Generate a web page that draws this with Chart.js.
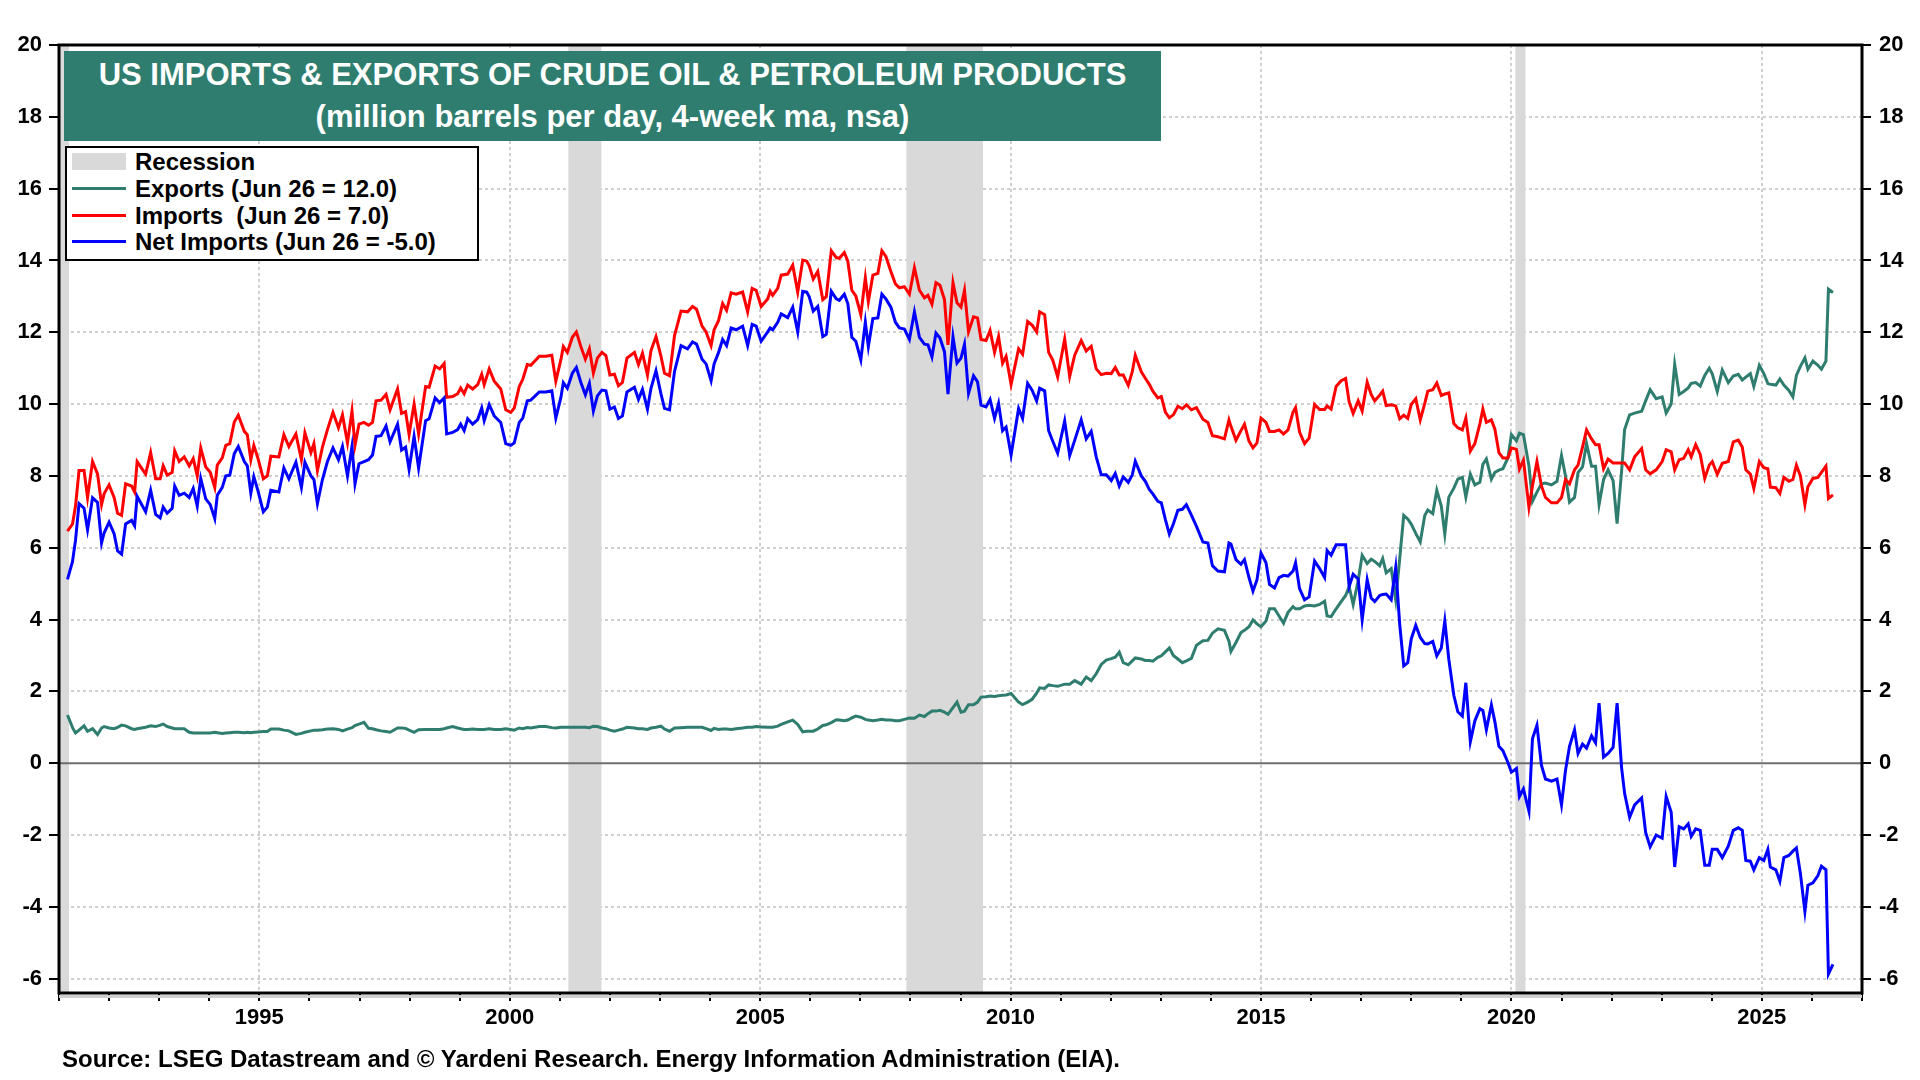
<!DOCTYPE html>
<html>
<head>
<meta charset="utf-8">
<title>US Imports &amp; Exports of Crude Oil &amp; Petroleum Products</title>
<script src="https://cdn.jsdelivr.net/npm/chart.js@4.4.1/dist/chart.umd.min.js"></script>
<style>
  body { margin: 0; background: #fff; font-family: "Liberation Sans", Arial, sans-serif; }
  #wrap { position: relative; width: 1920px; height: 1080px; overflow: hidden; }
  #chart { position: absolute; left: 0; top: 0; }
  .title-box {
    position: absolute; left: 64px; top: 51px; width: 1097px; height: 90px;
    background: #2e7d6f; color: #fff; font-weight: bold; text-align: center;
  }
  .title-box div { position: absolute; left: 0; right: 0; font-size: 31px; line-height: 34px; }
  .t1 { top: 7px; }
  .t2 { top: 49px; }
  .legend {
    position: absolute; left: 65px; top: 146px; width: 410px; height: 111px;
    border: 2px solid #000; background: #fff;
  }
  .row {
    position: absolute; left: 68px; height: 26px; line-height: 26px;
    font-size: 24px; font-weight: bold; color: #000; white-space: pre;
  }
  .sw { position: absolute; left: 5px; width: 54px; }
  .source {
    position: absolute; left: 62px; top: 1046px; font-size: 24px; line-height: 26px;
    font-weight: bold; color: #000; white-space: nowrap;
  }
</style>
</head>
<body>
<div id="wrap">
  <canvas id="chart" width="1920" height="1080"></canvas>

  <div class="title-box">
    <div class="t1">US IMPORTS &amp; EXPORTS OF CRUDE OIL &amp; PETROLEUM PRODUCTS</div>
    <div class="t2">(million barrels per day, 4-week ma, nsa)</div>
  </div>

  <div class="legend">
    <div class="sw" style="top:5px;height:17px;background:#d9d9d9;"></div>
    <div class="row" style="top:1px;">Recession</div>
    <div class="sw" style="top:39px;height:3px;background:#2e7d6f;"></div>
    <div class="row" style="top:28px;">Exports (Jun 26 = 12.0)</div>
    <div class="sw" style="top:66px;height:3px;background:#ff0000;"></div>
    <div class="row" style="top:55px;">Imports  (Jun 26 = 7.0)</div>
    <div class="sw" style="top:92px;height:3px;background:#0000ff;"></div>
    <div class="row" style="top:81px;">Net Imports (Jun 26 = -5.0)</div>
  </div>

  <div class="source">Source: LSEG Datastream and © Yardeni Research. Energy Information Administration (EIA).</div>
</div>

<script>
// dates as decimal years (roughly monthly)
const years = [
  1991.17, 1991.27, 1991.33, 1991.40, 1991.50, 1991.57, 1991.67, 1991.77, 1991.85, 1991.90,
  1992.00, 1992.10, 1992.17, 1992.25, 1992.33, 1992.45, 1992.51, 1992.56, 1992.73, 1992.83,
  1992.93, 1993.02, 1993.08, 1993.16, 1993.26, 1993.31, 1993.40, 1993.50, 1993.60, 1993.68,
  1993.76, 1993.83, 1993.93, 1994.02, 1994.11, 1994.16, 1994.26, 1994.33, 1994.41, 1994.50,
  1994.58, 1994.70, 1994.76, 1994.83, 1994.89, 1994.97, 1995.08, 1995.16, 1995.23, 1995.39,
  1995.49, 1995.59, 1995.73, 1995.84, 1995.91,
  1996.03, 1996.09, 1996.16, 1996.26, 1996.36, 1996.47, 1996.58, 1996.66, 1996.76, 1996.85,
  1996.91, 1996.99, 1997.09, 1997.18, 1997.26, 1997.33, 1997.43, 1997.53, 1997.61, 1997.76,
  1997.84, 1997.92, 1997.99, 1998.09, 1998.18, 1998.32, 1998.39, 1998.51, 1998.60, 1998.69,
  1998.74, 1998.86, 1998.96, 1999.02, 1999.09, 1999.16, 1999.26, 1999.36, 1999.44, 1999.49,
  1999.59, 1999.69, 1999.82, 1999.92, 2000.02, 2000.09, 2000.19, 2000.26, 2000.35, 2000.42,
  2000.59, 2000.72, 2000.84, 2000.92,
  2001.02, 2001.07, 2001.15, 2001.25, 2001.33, 2001.42, 2001.51, 2001.59, 2001.67, 2001.75,
  2001.84, 2001.92, 2002.00, 2002.09, 2002.17, 2002.25, 2002.34, 2002.49, 2002.57, 2002.65,
  2002.75, 2002.82, 2002.92, 2003.02, 2003.09, 2003.19, 2003.29, 2003.42, 2003.55, 2003.65,
  2003.73, 2003.84, 2003.92, 2004.02, 2004.08, 2004.17, 2004.25, 2004.33, 2004.42, 2004.52,
  2004.65, 2004.75, 2004.84, 2004.92, 2005.02, 2005.15, 2005.20, 2005.25, 2005.35, 2005.42,
  2005.55, 2005.65, 2005.75, 2005.85, 2005.93,
  2005.98, 2006.06, 2006.15, 2006.25, 2006.32, 2006.42, 2006.52, 2006.58, 2006.68, 2006.75,
  2006.83, 2006.91, 2007.01, 2007.10, 2007.16, 2007.25, 2007.35, 2007.43, 2007.51, 2007.61,
  2007.70, 2007.78, 2007.88, 2007.98, 2008.08, 2008.18, 2008.28, 2008.35, 2008.43, 2008.51,
  2008.59, 2008.68, 2008.75, 2008.85, 2008.93, 2009.01, 2009.08, 2009.16, 2009.26, 2009.34,
  2009.41, 2009.51, 2009.59, 2009.68, 2009.76, 2009.84, 2009.91, 2010.01, 2010.16, 2010.24,
  2010.34, 2010.43, 2010.52, 2010.58, 2010.68, 2010.76, 2010.84, 2010.94,
  2011.08, 2011.18, 2011.28, 2011.41, 2011.51, 2011.61, 2011.71, 2011.81, 2011.91, 2012.01,
  2012.09, 2012.17, 2012.25, 2012.35, 2012.43, 2012.49, 2012.61, 2012.69, 2012.77, 2012.84,
  2012.94, 2013.01, 2013.09, 2013.17, 2013.25, 2013.34, 2013.43, 2013.51, 2013.61, 2013.71,
  2013.84, 2013.94, 2014.03, 2014.14, 2014.27, 2014.36, 2014.40, 2014.50, 2014.60, 2014.67,
  2014.76, 2014.84, 2014.92, 2015.00, 2015.10, 2015.17, 2015.27, 2015.36, 2015.45, 2015.54,
  2015.64, 2015.69, 2015.77, 2015.87, 2015.96,
  2016.07, 2016.17, 2016.27, 2016.32, 2016.40, 2016.50, 2016.60, 2016.69, 2016.76, 2016.84,
  2016.94, 2017.02, 2017.12, 2017.20, 2017.27, 2017.37, 2017.43, 2017.50, 2017.60, 2017.69,
  2017.77, 2017.85, 2017.93, 2018.00, 2018.09, 2018.18, 2018.27, 2018.33, 2018.43, 2018.51,
  2018.60, 2018.67, 2018.75, 2018.85, 2018.93, 2019.02, 2019.09, 2019.18, 2019.27, 2019.37,
  2019.43, 2019.50, 2019.60, 2019.67, 2019.75, 2019.83, 2019.93, 2020.00, 2020.10, 2020.16,
  2020.24, 2020.35, 2020.42, 2020.51, 2020.60, 2020.68, 2020.80, 2020.91,
  2021.00, 2021.08, 2021.16, 2021.26, 2021.33, 2021.42, 2021.50, 2021.60, 2021.68, 2021.75,
  2021.84, 2021.93, 2022.03, 2022.11, 2022.20, 2022.26, 2022.36, 2022.46, 2022.60, 2022.68,
  2022.77, 2022.89, 2023.01, 2023.09, 2023.19, 2023.26, 2023.35, 2023.44, 2023.53, 2023.59,
  2023.68, 2023.77, 2023.86, 2023.95, 2024.01, 2024.11, 2024.21, 2024.33, 2024.43, 2024.53,
  2024.61, 2024.68, 2024.77, 2024.84, 2024.95, 2025.04, 2025.12, 2025.17, 2025.28, 2025.36,
  2025.44, 2025.54, 2025.62, 2025.69, 2025.77, 2025.86, 2025.92, 2026.02, 2026.12, 2026.19,
  2026.28, 2026.33, 2026.42
];

// million barrels per day
const exportsMbd = [
  1.34, 0.99, 0.84, 0.92, 1.04, 0.89, 0.96, 0.80, 0.98, 1.02,
  0.98, 0.96, 1.00, 1.06, 1.04, 0.96, 0.94, 0.96, 1.00, 1.04,
  1.02, 1.06, 1.09, 1.02, 0.98, 0.96, 0.96, 0.96, 0.86, 0.84,
  0.84, 0.84, 0.84, 0.84, 0.86, 0.85, 0.83, 0.84, 0.85, 0.86,
  0.86, 0.85, 0.86, 0.85, 0.86, 0.87, 0.88, 0.88, 0.95, 0.95,
  0.92, 0.90, 0.80, 0.83, 0.86,
  0.90, 0.92, 0.92, 0.93, 0.95, 0.96, 0.94, 0.90, 0.95, 0.99,
  1.05, 1.09, 1.14, 0.97, 0.96, 0.93, 0.90, 0.88, 0.86, 0.98,
  0.98, 0.97, 0.92, 0.86, 0.93, 0.94, 0.94, 0.94, 0.94, 0.96,
  0.98, 1.02, 0.98, 0.96, 0.94, 0.94, 0.95, 0.94, 0.94, 0.94,
  0.96, 0.94, 0.94, 0.96, 0.94, 0.92, 0.98, 0.96, 0.99, 0.98,
  1.02, 1.02, 0.99, 0.98,
  1.00, 1.00, 1.00, 1.00, 1.00, 1.00, 1.00, 0.99, 1.03, 1.02,
  0.98, 0.96, 0.92, 0.89, 0.92, 0.95, 1.00, 0.98, 0.96, 0.96,
  0.94, 0.98, 1.00, 1.03, 0.95, 0.89, 0.98, 0.99, 1.00, 1.00,
  1.00, 1.00, 0.96, 0.91, 0.97, 0.94, 0.95, 0.95, 0.94, 0.96,
  0.98, 1.00, 1.00, 1.02, 1.01, 1.00, 1.00, 1.00, 1.03, 1.08,
  1.15, 1.20, 1.08, 0.87, 0.89,
  0.89, 0.89, 0.95, 1.05, 1.07, 1.13, 1.21, 1.20, 1.18, 1.20,
  1.26, 1.31, 1.28, 1.22, 1.20, 1.18, 1.20, 1.22, 1.20, 1.20,
  1.18, 1.18, 1.22, 1.26, 1.25, 1.34, 1.30, 1.38, 1.45, 1.45,
  1.47, 1.42, 1.36, 1.55, 1.70, 1.42, 1.45, 1.63, 1.63, 1.70,
  1.84, 1.85, 1.87, 1.86, 1.88, 1.89, 1.90, 1.94, 1.70, 1.63,
  1.70, 1.78, 1.95, 2.10, 2.08, 2.18, 2.16, 2.14,
  2.20, 2.20, 2.30, 2.20, 2.40, 2.30, 2.49, 2.75, 2.87, 2.91,
  2.95, 3.09, 2.80, 2.74, 2.85, 2.93, 2.90, 2.86, 2.86, 2.84,
  2.95, 2.99, 3.10, 3.21, 3.00, 2.90, 2.80, 2.85, 2.92, 3.28,
  3.41, 3.42, 3.62, 3.74, 3.70, 3.40, 3.11, 3.36, 3.64, 3.70,
  3.80, 3.99, 3.88, 3.80, 3.96, 4.30, 4.30, 4.10, 3.90, 4.20,
  4.36, 4.30, 4.30, 4.38, 4.40,
  4.38, 4.42, 4.51, 4.10, 4.08, 4.30, 4.50, 4.67, 4.92, 4.42,
  5.08, 5.79, 5.56, 5.68, 5.62, 5.50, 5.70, 5.30, 5.42, 4.55,
  5.70, 6.90, 6.80, 6.66, 6.40, 6.16, 6.90, 7.05, 6.95, 7.60,
  7.16, 6.38, 7.41, 7.66, 7.91, 7.96, 7.41, 8.05, 7.75, 7.82,
  8.32, 8.47, 7.91, 8.10, 8.16, 8.20, 8.50, 9.15, 8.98, 9.19,
  9.15, 8.28, 7.29, 7.55, 7.78, 7.80, 7.75, 7.85,
  8.57, 8.00, 7.27, 7.40, 8.09, 8.25, 8.90, 8.27, 8.27, 7.20,
  7.90, 8.17, 7.87, 6.67, 8.13, 9.29, 9.70, 9.75, 9.80, 10.09,
  10.40, 10.15, 10.20, 9.75, 10.00, 11.11, 10.27, 10.35, 10.45, 10.58,
  10.60, 10.50, 10.80, 11.00, 10.84, 10.35, 10.95, 10.60, 10.78, 10.83,
  10.67, 10.75, 10.85, 10.49, 11.08, 10.85, 10.57, 10.55, 10.53, 10.70,
  10.53, 10.38, 10.20, 10.80, 11.05, 11.29, 10.97, 11.20, 11.08, 10.97,
  11.20, 13.20, 13.11
];

const importsMbd = [
  6.46, 6.66, 7.16, 8.15, 8.15, 7.40, 8.40, 8.05, 7.20, 7.50,
  7.75, 7.40, 6.96, 6.90, 7.78, 7.72, 7.55, 8.40, 8.05, 8.65,
  7.92, 7.92, 8.28, 8.02, 8.10, 8.70, 8.40, 8.53, 8.28, 8.48,
  8.00, 8.78, 8.25, 8.10, 7.68, 8.30, 8.50, 8.85, 8.90, 9.50,
  9.69, 9.24, 9.15, 8.45, 8.85, 8.50, 7.92, 8.00, 8.55, 8.53,
  9.15, 8.82, 9.17, 8.45, 9.20,
  8.65, 8.90, 8.15, 8.80, 9.29, 9.77, 9.34, 9.70, 8.92, 9.81,
  8.85, 9.44, 9.49, 9.41, 9.49, 10.09, 10.11, 10.27, 9.84, 10.42,
  9.74, 9.79, 9.15, 10.00, 9.17, 10.49, 10.47, 11.06, 10.98, 11.13,
  10.19, 10.21, 10.29, 10.45, 10.29, 10.53, 10.42, 10.54, 10.83, 10.54,
  10.98, 10.64, 10.42, 9.84, 9.77, 9.89, 10.49, 10.69, 11.10, 11.08,
  11.33, 11.33, 11.36, 10.64,
  11.23, 11.60, 11.44, 11.86, 12.01, 11.60, 11.25, 11.54, 10.86, 11.28,
  11.44, 11.35, 10.81, 10.83, 10.51, 10.60, 11.28, 11.44, 11.10, 11.42,
  10.81, 11.49, 11.88, 11.33, 10.86, 10.79, 11.91, 12.59, 12.57, 12.72,
  12.64, 12.17, 12.01, 11.63, 12.07, 12.33, 12.80, 12.61, 13.10, 13.06,
  13.12, 12.57, 13.22, 13.17, 12.72, 12.93, 13.14, 13.03, 13.22, 13.59,
  13.62, 13.87, 13.12, 14.01, 13.98,
  13.85, 13.48, 13.69, 12.91, 12.99, 14.27, 14.08, 14.06, 14.22, 13.98,
  13.17, 13.01, 12.49, 13.52, 12.85, 13.59, 13.64, 14.27, 14.11, 13.69,
  13.35, 13.24, 13.27, 13.06, 13.80, 13.17, 12.96, 13.03, 12.78, 13.38,
  13.31, 12.91, 11.65, 13.38, 12.82, 12.70, 13.17, 12.01, 12.43, 12.40,
  11.80, 11.77, 12.05, 11.44, 11.88, 11.14, 11.33, 10.55, 11.54, 11.39,
  12.30, 12.20, 12.01, 12.57, 12.49, 11.44, 11.23, 10.76,
  11.81, 10.77, 11.36, 11.77, 11.48, 11.61, 10.98, 10.82, 10.86, 10.85,
  11.02, 10.81, 10.81, 10.52, 10.90, 11.36, 10.90, 10.72, 10.55, 10.36,
  10.17, 10.21, 9.78, 9.62, 9.70, 9.94, 9.87, 9.98, 9.84, 9.90,
  9.58, 9.49, 9.12, 9.09, 9.03, 9.56, 9.38, 8.99, 9.26, 9.44,
  8.97, 8.78, 8.92, 9.61, 9.49, 9.24, 9.24, 9.28, 9.17, 9.28,
  9.78, 9.90, 9.22, 8.90, 9.05,
  9.99, 9.85, 9.85, 9.95, 9.86, 10.49, 10.65, 10.71, 10.06, 9.74,
  10.09, 9.81, 10.61, 10.27, 10.09, 10.25, 10.36, 9.96, 9.98, 9.95,
  9.59, 9.69, 9.60, 9.99, 10.15, 9.56, 10.02, 10.36, 10.40, 10.59,
  10.24, 10.28, 10.31, 9.46, 9.34, 9.28, 9.61, 8.69, 8.90, 9.45,
  9.86, 9.49, 9.56, 9.30, 8.65, 8.50, 8.50, 8.78, 8.74, 8.19,
  8.44, 7.12, 7.72, 8.40, 7.72, 7.40, 7.25, 7.25,
  7.40, 7.90, 7.78, 8.17, 8.30, 8.80, 9.28, 9.03, 8.87, 8.87,
  8.20, 8.47, 8.36, 8.36, 8.36, 8.36, 8.17, 8.53, 8.76, 8.17,
  8.06, 8.17, 8.40, 8.73, 8.67, 8.17, 8.45, 8.49, 8.73, 8.53,
  8.87, 8.60, 7.93, 8.30, 8.40, 8.04, 8.35, 8.40, 8.95, 9.00,
  8.80, 8.17, 8.05, 7.65, 8.40, 8.23, 8.20, 7.69, 7.67, 7.51,
  7.96, 7.85, 7.90, 8.30, 8.00, 7.20, 7.70, 7.93, 7.96, 8.10,
  8.27, 7.37, 7.47
];

const netImportsMbd = [
  5.12, 5.62, 6.21, 7.23, 7.10, 6.50, 7.39, 7.26, 6.13, 6.41,
  6.71, 6.39, 5.91, 5.82, 6.66, 6.76, 6.61, 7.43, 7.00, 7.60,
  6.93, 6.83, 7.13, 6.96, 7.10, 7.72, 7.46, 7.52, 7.40, 7.65,
  7.16, 7.93, 7.36, 7.20, 6.81, 7.46, 7.68, 8.00, 8.02, 8.62,
  8.82, 8.40, 8.28, 7.52, 7.98, 7.60, 7.00, 7.13, 7.60, 7.55,
  8.22, 7.92, 8.38, 7.68, 8.38,
  8.00, 7.90, 7.23, 7.90, 8.40, 8.78, 8.45, 8.82, 8.00, 8.82,
  7.78, 8.34, 8.40, 8.45, 8.58, 9.10, 9.12, 9.39, 8.95, 9.44,
  8.72, 8.80, 8.18, 9.10, 8.22, 9.54, 9.59, 10.17, 10.04, 10.17,
  9.17, 9.21, 9.29, 9.44, 9.26, 9.59, 9.44, 9.57, 9.89, 9.54,
  9.99, 9.67, 9.49, 8.90, 8.85, 8.92, 9.49, 9.61, 10.09, 10.11,
  10.34, 10.34, 10.37, 9.61,
  10.18, 10.60, 10.44, 10.86, 11.02, 10.60, 10.26, 10.58, 9.81, 10.23,
  10.39, 10.37, 9.86, 9.92, 9.60, 9.67, 10.34, 10.47, 10.13, 10.41,
  9.86, 10.44, 10.93, 10.28, 9.88, 9.84, 10.91, 11.63, 11.54, 11.73,
  11.67, 11.25, 11.12, 10.65, 11.12, 11.44, 11.80, 11.63, 12.12, 12.07,
  12.17, 11.63, 12.22, 12.17, 11.75, 12.01, 12.12, 12.07, 12.28, 12.51,
  12.41, 12.70, 12.01, 13.14, 13.12,
  12.99, 12.59, 12.72, 11.88, 11.94, 13.14, 12.93, 12.89, 13.06, 12.80,
  11.86, 11.75, 11.23, 12.28, 11.60, 12.38, 12.40, 13.06, 12.93, 12.70,
  12.28, 12.12, 12.09, 11.80, 12.57, 11.86, 11.67, 11.65, 11.31, 11.98,
  11.84, 11.46, 10.28, 11.88, 11.14, 11.28, 11.67, 10.30, 10.79, 10.62,
  9.97, 9.92, 10.13, 9.60, 10.02, 9.26, 9.36, 8.58, 9.88, 9.60,
  10.58, 10.39, 10.09, 10.44, 10.37, 9.26, 8.97, 8.63,
  9.53, 8.57, 8.99, 9.56, 9.03, 9.24, 8.53, 8.03, 8.03, 7.87,
  8.07, 7.72, 7.97, 7.82, 8.03, 8.41, 8.00, 7.85, 7.62, 7.50,
  7.29, 7.25, 6.79, 6.38, 6.66, 7.04, 7.07, 7.20, 6.91, 6.60,
  6.16, 6.13, 5.50, 5.35, 5.33, 6.13, 6.10, 5.67, 5.54, 5.67,
  5.17, 4.79, 5.11, 5.85, 5.58, 4.98, 4.88, 5.17, 5.23, 5.21,
  5.35, 5.58, 4.86, 4.55, 4.63,
  5.63, 5.42, 5.17, 5.92, 5.79, 6.08, 6.08, 6.08, 4.92, 5.26,
  5.13, 3.99, 5.11, 4.60, 4.50, 4.67, 4.70, 4.71, 4.55, 5.45,
  3.86, 2.71, 2.80, 3.46, 3.84, 3.50, 3.33, 3.32, 3.39, 2.99,
  3.21, 3.96, 2.89, 1.89, 1.43, 1.31, 2.24, 0.60, 1.18, 1.52,
  1.47, 0.93, 1.62, 1.15, 0.47, 0.35, 0.02, -0.25, -0.15, -0.93,
  -0.72, -1.34, 0.68, 1.06, -0.06, -0.44, -0.50, -0.44,
  -1.16, -0.20, 0.47, 0.93, 0.27, 0.53, 0.42, 0.76, 0.57, 1.67,
  0.17, 0.27, 0.44, 1.67, -0.13, -0.84, -1.51, -1.16, -0.97, -1.93,
  -2.33, -2.00, -2.09, -0.93, -1.37, -2.89, -1.77, -1.83, -1.69, -2.04,
  -1.83, -1.87, -2.84, -2.84, -2.40, -2.40, -2.63, -2.31, -1.87, -1.80,
  -1.87, -2.71, -2.73, -2.97, -2.63, -2.71, -2.40, -2.89, -2.97, -3.29,
  -2.63, -2.57, -2.45, -2.36, -3.07, -4.13, -3.40, -3.33, -3.13, -2.87,
  -2.97, -5.87, -5.60
];

// NBER recessions (decimal years)
const recessionStart = [1990.50, 2001.17, 2007.92, 2020.08];
const recessionEnd   = [1991.20, 2001.83, 2009.45, 2020.28];

const yTicks = [-6, -4, -2, 0, 2, 4, 6, 8, 10, 12, 14, 16, 18, 20];
const xLabels = [1995, 2000, 2005, 2010, 2015, 2020, 2025];

const FONT = '"Liberation Sans", Arial, sans-serif';
const tickFont = { family: FONT, size: 22, weight: 'bold' };

function toPoints(values) {
  return years.map((x, i) => ({ x: x, y: values[i] }));
}

// recession shading + zero line under the lines, frame on top
const decorPlugin = {
  id: 'decor',
  beforeDatasetsDraw(chart) {
    const { ctx, chartArea: a, scales } = chart;
    ctx.save();
    ctx.beginPath();
    ctx.rect(a.left, a.top, a.right - a.left, a.bottom - a.top);
    ctx.clip();
    ctx.fillStyle = '#d9d9d9';
    recessionStart.forEach((s, i) => {
      const x1 = scales.x.getPixelForValue(Math.max(s, scales.x.min));
      const x2 = scales.x.getPixelForValue(recessionEnd[i]);
      ctx.fillRect(x1, a.top, x2 - x1, a.bottom - a.top);
    });
    const y0 = scales.y.getPixelForValue(0);
    ctx.strokeStyle = '#6e6e6e';
    ctx.lineWidth = 2;
    ctx.beginPath();
    ctx.moveTo(a.left, y0);
    ctx.lineTo(a.right, y0);
    ctx.stroke();
    ctx.restore();
  },
  afterDatasetsDraw(chart) {
    const { ctx, chartArea: a } = chart;
    ctx.save();
    ctx.fillStyle = '#cfcfcf';
    ctx.fillRect(a.left, a.bottom + 2, a.right - a.left, 3);
    ctx.strokeStyle = '#000';
    ctx.lineWidth = 3;
    ctx.strokeRect(a.left, a.top, a.right - a.left, a.bottom - a.top);
    ctx.restore();
  }
};

function yAxis(position, width, tickLen, pad) {
  return {
    type: 'linear',
    position: position,
    min: -6.4,
    max: 20,
    afterBuildTicks: (scale) => { scale.ticks = yTicks.map(v => ({ value: v })); },
    afterFit: (scale) => { scale.width = width; },
    grid: {
      drawOnChartArea: position === 'left',
      color: (c) => (c.tick && c.tick.value === 0) ? 'rgba(0,0,0,0)' : '#cfcfcf',
      lineWidth: 2,
      tickColor: '#000',
      tickWidth: 2,
      tickLength: tickLen
    },
    border: { display: false, dash: [3, 3] },
    ticks: { color: '#000', font: tickFont, padding: pad }
  };
}

const ctx = document.getElementById('chart');

new Chart(ctx, {
  type: 'line',
  data: {
    datasets: [
      { label: 'Exports', data: toPoints(exportsMbd), borderColor: '#2e7d6f', order: 3 },
      { label: 'Imports', data: toPoints(importsMbd), borderColor: '#ff0000', order: 2 },
      { label: 'Net Imports', data: toPoints(netImportsMbd), borderColor: '#0000ff', order: 1 }
    ]
  },
  options: {
    responsive: false,
    animation: false,
    devicePixelRatio: 1,
    layout: { padding: { top: 45, left: 0, right: 0, bottom: 0 } },
    plugins: { legend: { display: false }, tooltip: { enabled: false } },
    elements: {
      point: { radius: 0 },
      line: { tension: 0, borderWidth: 3, fill: false }
    },
    scales: {
      x: {
        type: 'linear',
        min: 1991,
        max: 2027,
        afterBuildTicks: (scale) => {
          const t = [];
          for (let yr = 1991; yr <= 2027; yr++) t.push({ value: yr });
          scale.ticks = t;
        },
        afterFit: (scale) => { scale.height = 87; },
        grid: {
          color: (c) => (c.tick && xLabels.includes(c.tick.value)) ? '#cfcfcf' : 'rgba(0,0,0,0)',
          lineWidth: 2,
          tickColor: '#000',
          tickWidth: 2,
          tickLength: 8
        },
        border: { display: false, dash: [3, 3] },
        ticks: {
          color: '#000',
          font: tickFont,
          padding: 4,
          autoSkip: false,
          maxRotation: 0,
          callback: (v) => xLabels.includes(v) ? String(v) : ''
        }
      },
      y: yAxis('left', 59, 10, 7),
      y2: yAxis('right', 58, 9, 8)
    }
  },
  plugins: [decorPlugin]
});
</script>
</body>
</html>
